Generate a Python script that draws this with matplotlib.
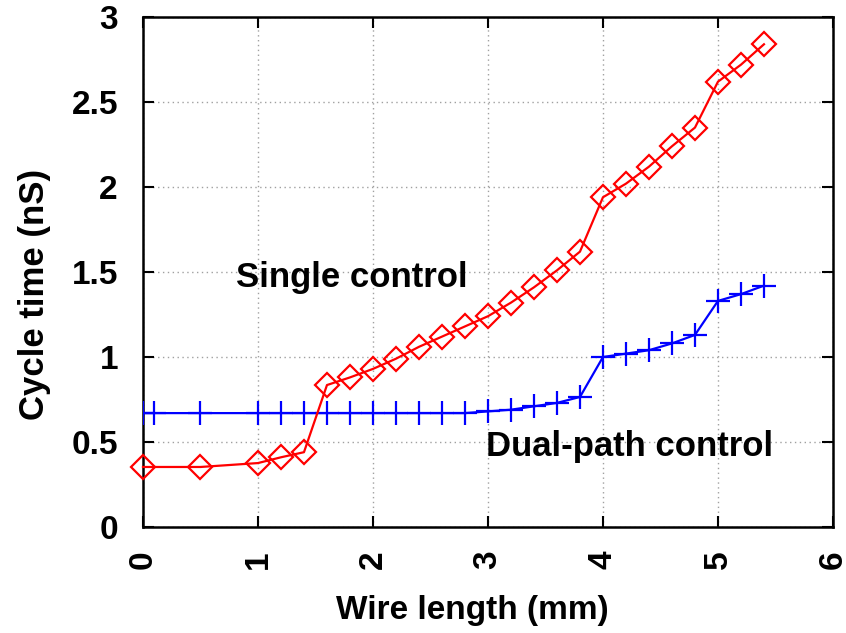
import matplotlib
matplotlib.use("Agg")
import matplotlib.pyplot as plt

plt.rcParams['font.family'] = ['Liberation Sans', 'DejaVu Sans']

single_x = [0, 0.5, 1.0, 1.2, 1.4, 1.6, 1.8, 2.0, 2.2, 2.4, 2.6, 2.8, 3.0, 3.2,
            3.4, 3.6, 3.8, 4.0, 4.2, 4.4, 4.6, 4.8, 5.0, 5.2, 5.4]
single_y = [0.353, 0.353, 0.376, 0.41, 0.44, 0.835, 0.88, 0.93, 0.99, 1.06, 1.12,
            1.18, 1.24, 1.32, 1.41, 1.51, 1.62, 1.94, 2.02, 2.12, 2.24, 2.35,
            2.62, 2.72, 2.84]

dual_x = [0, 0.1, 0.5, 1.0, 1.2, 1.4, 1.6, 1.8, 2.0, 2.2, 2.4, 2.6, 2.8, 3.0, 3.2,
          3.4, 3.6, 3.8, 4.0, 4.2, 4.4, 4.6, 4.8, 5.0, 5.2, 5.4]
dual_y = [0.67, 0.67, 0.67, 0.67, 0.67, 0.67, 0.67, 0.67, 0.67, 0.67, 0.67, 0.67,
          0.67, 0.68, 0.69, 0.71, 0.73, 0.765, 1.0, 1.02, 1.04, 1.08, 1.13,
          1.33, 1.37, 1.42]

x_ticks = [0, 1, 2, 3, 4, 5, 6]
y_ticks = [0, 0.5, 1, 1.5, 2, 2.5, 3]
y_tick_labels = ['0', '0.5', '1', '1.5', '2', '2.5', '3']

fig = plt.figure(figsize=(8.46, 6.33), dpi=100)
ax = fig.add_axes([0.169, 0.1675, 0.8156, 0.8055])

ax.plot(dual_x, dual_y, color='#0000ff', lw=1.6, marker='+', ms=17, mew=1.6,
        clip_on=True, zorder=3)
ax.plot(single_x, single_y, color='#ff0000', lw=1.6, marker='D', ms=12,
        mfc='none', mec='#ff0000', mew=1.6, clip_on=False, zorder=4)

ax.set_xlim(0, 6)
ax.set_ylim(0, 3)
ax.set_xticks(x_ticks)
ax.set_yticks(y_ticks)
ax.set_yticklabels(y_tick_labels)
ax.set_xticklabels([str(t) for t in x_ticks], rotation=90)

ax.grid(True, color='#a0a0a0', linestyle=(0, (1, 2.5)), lw=1.0)
ax.set_axisbelow(True)

ax.tick_params(direction='in', length=8, width=1.5, top=True, right=True,
               labelsize=24)
ax.tick_params(axis='x', pad=17)
ax.tick_params(axis='y', pad=18)
for lab in ax.get_xticklabels() + ax.get_yticklabels():
    lab.set_fontweight('bold')
for s in ax.spines.values():
    s.set_linewidth(1.8)

ax.set_xlabel('Wire length (mm)', fontsize=24, fontweight='bold')
ax.set_ylabel('Cycle time (nS)', fontsize=25, fontweight='bold')
ax.xaxis.label.set_va('center')
ax.yaxis.label.set_va('center')
ax.xaxis.set_label_coords(0.477, -0.163)
ax.yaxis.set_label_coords(-0.1565, 0.457)

ax.text(1.817, 1.47, 'Single control', fontsize=25, fontweight='bold',
        ha='center', va='center')
ax.text(4.235, 0.476, 'Dual-path control', fontsize=25, fontweight='bold',
        ha='center', va='center')

fig.savefig('out.png', dpi=100)
